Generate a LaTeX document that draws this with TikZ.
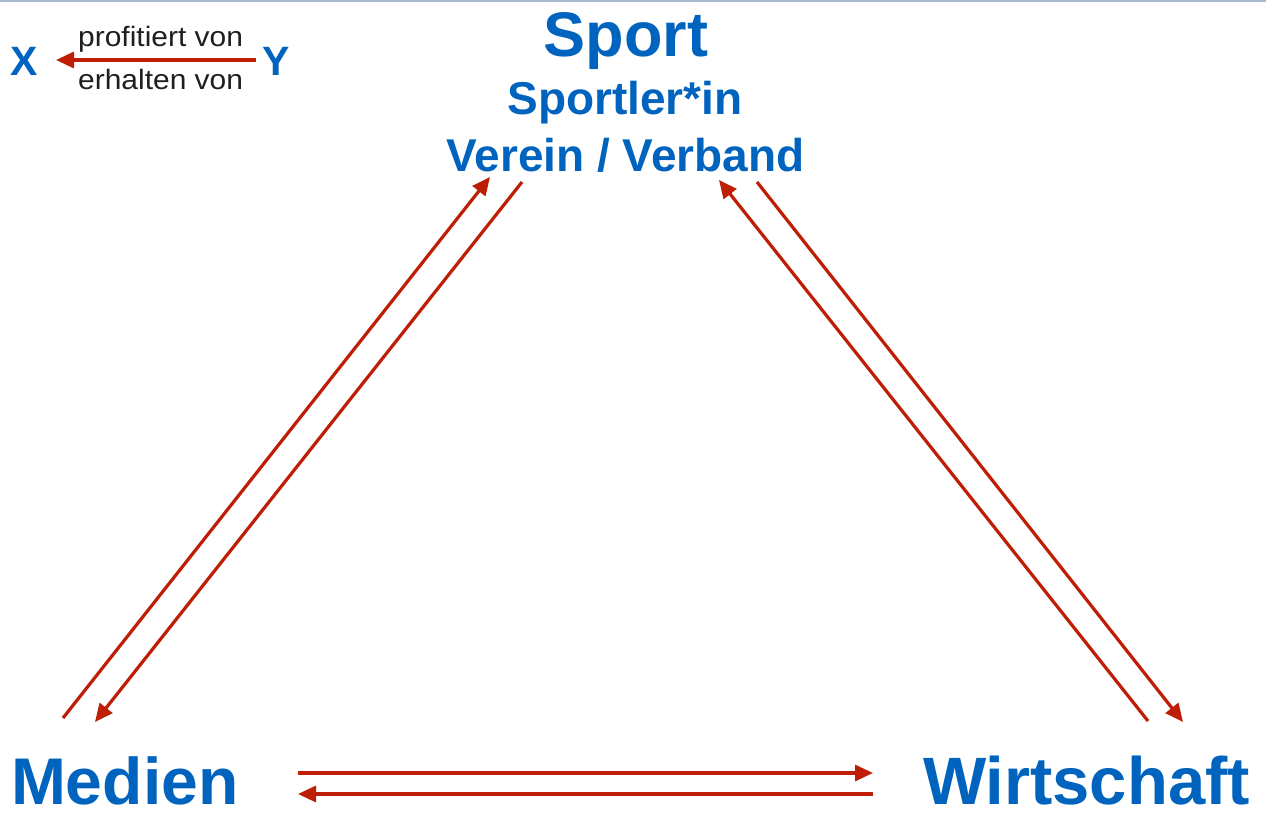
\documentclass[tikz,border=0pt]{standalone}
\usepackage{fontspec}
\setmainfont{Liberation Sans}
\newfontfamily\legfont[FakeStretch=1.07]{Liberation Sans}
\usetikzlibrary{arrows.meta}
\definecolor{tblue}{HTML}{0064BE}
\definecolor{ared}{HTML}{BE1E05}
\definecolor{topline}{HTML}{A9B9D2}
\tikzset{
  lbl/.style={inner sep=0pt, outer sep=0pt, anchor=base, text=tblue, font=\bfseries},
  rel/.style={draw=ared, line width=3.2pt, -{Triangle[length=18pt,width=16pt]}},
  legtext/.style={inner sep=0pt, anchor=base west, text=black!88, font=\legfont\fontsize{28}{30}\selectfont},
}
\begin{document}
\begin{tikzpicture}[x=1pt,y=-1pt]
\useasboundingbox (0,0) rectangle (1266,814);
\fill[white] (0,0) rectangle (1266,814);
\fill[topline] (0,0) rectangle (1266,2.2);
% main labels
\node[lbl, font=\bfseries\fontsize{63}{66}\selectfont] (sport) at (626,56) {Sport};
\node[lbl, font=\bfseries\fontsize{46}{48}\selectfont] (sportler) at (625,114) {Sportler*in};
\node[lbl, font=\bfseries\fontsize{46}{50}\selectfont] (verein) at (625.5,171) {Verein / Verband};
\node[lbl, anchor=base west, text depth=0pt, font=\bfseries\fontsize{66}{70}\selectfont] (medien) at (11,804) {Medien};
\node[lbl, anchor=base east, text depth=0pt, font=\bfseries\fontsize{67}{70}\selectfont] (wirtschaft) at (1250,804) {Wirtschaft};
% legend
\node[lbl, font=\bfseries\fontsize{41}{44}\selectfont] (x) at (24.5,75) {X};
\node[lbl, font=\bfseries\fontsize{41}{44}\selectfont] (y) at (276,75) {Y};
\node[legtext] (prof) at (78,46) {profitiert von};
\node[legtext] (erh) at (78,89) {erhalten von};
\coordinate (ly) at (256,60);
\coordinate (lx) at (56,60);
\draw[rel] (ly) -- (lx);
% arrow endpoints
\coordinate (m1) at (63,718);   \coordinate (s1) at (490,177);
\coordinate (s2) at (522,182);  \coordinate (m2) at (95,722);
\coordinate (w1) at (1148,721); \coordinate (s3) at (719,180);
\coordinate (s4) at (757,182);  \coordinate (w2) at (1183,722);
\coordinate (m3) at (298,773);  \coordinate (w3) at (873,773);
\coordinate (w4) at (873,794);  \coordinate (m4) at (298,794);
\draw[rel] (m1) -- (s1);
\draw[rel] (s2) -- (m2);
\draw[rel] (w1) -- (s3);
\draw[rel] (s4) -- (w2);
\draw[rel] (m3) -- (w3);
\draw[rel] (w4) -- (m4);
\end{tikzpicture}
\end{document}
